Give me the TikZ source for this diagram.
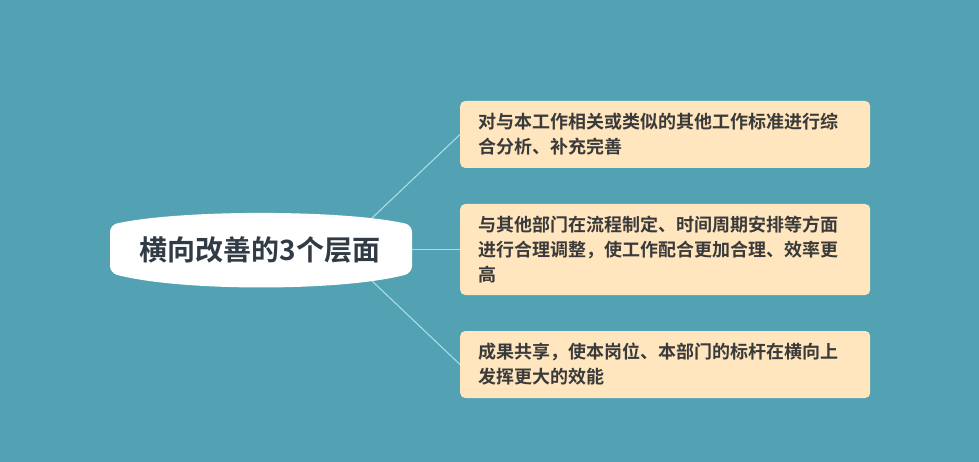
\documentclass[tikz,border=0pt]{standalone}
\usepackage{fontspec}
\newfontfamily\cjk{Noto Sans CJK SC}[BoldFont={Noto Sans CJK SC Bold}]
\definecolor{bgteal}{HTML}{52A2B3}
\definecolor{boxfill}{HTML}{FFE6BF}
\definecolor{linecol}{HTML}{A9DCE6}
\definecolor{boxtext}{HTML}{3A3A3A}
\definecolor{centertext}{HTML}{303B46}
\tikzset{
  leafbox/.style={fill=boxfill, rounded corners=5pt, text width=374pt, align=left,
    inner xsep=18pt, inner ysep=0pt, anchor=west, text=boxtext,
    font=\cjk\bfseries\fontsize{18pt}{25pt}\selectfont},
  link/.style={draw=linecol, line width=1.1pt},
}
\begin{document}
\begin{tikzpicture}[x=1pt,y=-1pt]
\useasboundingbox (0,0) rectangle (979,462);
\fill[bgteal] (0,0) rectangle (979,462);
% leaf boxes
\node[leafbox, minimum height=67pt] (b1) at (460,134.5) {对与本工作相关或类似的其他工作标准进行综\\合分析、补充完善};
\node[leafbox, minimum height=91pt] (b2) at (460,249.5) {与其他部门在流程制定、时间周期安排等方面\\进行合理调整，使工作配合更加合理、效率更\\高};
\node[leafbox, minimum height=67pt] (b3) at (460,364.5) {成果共享，使本岗位、本部门的标杆在横向上\\发挥更大的效能};
% connector start points on the central shape
\coordinate (s1) at (371,219);
\coordinate (s2) at (405,249.5);
\coordinate (s3) at (371,280);
\draw[link] (s1) -- (b1.west);
\draw[link] (s2) -- (b2.west);
\draw[link] (s3) -- (b3.west);
% central shape
\fill[white, rounded corners=7pt] (110,249) -- (110,225) .. controls (180,209.4) and (342,209.4) .. (412,225) -- (412,273) .. controls (342,291.7) and (180,291.7) .. (110,273) -- cycle;
\node[text=centertext, font=\cjk\bfseries\fontsize{28pt}{30pt}\selectfont, inner sep=0pt] (c) at (260,250) {横向改善的3个层面};
\end{tikzpicture}
\end{document}
